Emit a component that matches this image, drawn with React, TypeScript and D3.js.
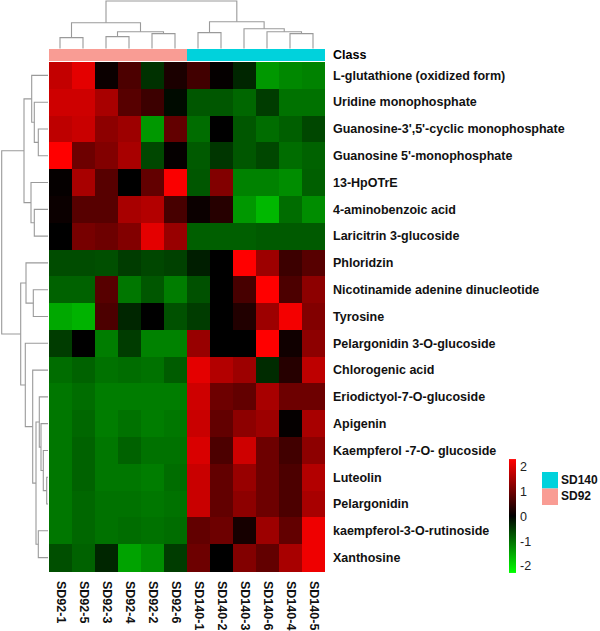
import React from "react";
import * as d3 from "d3";

const rowLabels = [
  "L-glutathione (oxidized form)",
  "Uridine monophosphate",
  "Guanosine-3',5'-cyclic monophosphate",
  "Guanosine 5'-monophosphate",
  "13-HpOTrE",
  "4-aminobenzoic acid",
  "Laricitrin 3-glucoside",
  "Phloridzin",
  "Nicotinamide adenine dinucleotide",
  "Tyrosine",
  "Pelargonidin 3-O-glucoside",
  "Chlorogenic acid",
  "Eriodictyol-7-O-glucoside",
  "Apigenin",
  "Kaempferol -7-O- glucoside",
  "Luteolin",
  "Pelargonidin",
  "kaempferol-3-O-rutinoside",
  "Xanthosine",
];

const colLabels = [
  "SD92-1", "SD92-5", "SD92-3", "SD92-4", "SD92-2", "SD92-6",
  "SD140-1", "SD140-2", "SD140-3", "SD140-6", "SD140-4", "SD140-5",
];

const colClasses = [
  "SD92", "SD92", "SD92", "SD92", "SD92", "SD92",
  "SD140", "SD140", "SD140", "SD140", "SD140", "SD140",
];

const classNames = ["SD140", "SD92"];
const classColors = ["#00D2DC", "#F99C94"];

const heatValues: number[][] = [
  [1.8, 2.1, 0.1, 0.7, -0.45, 0.25, 0.6, 0.05, -0.35, -1.4, -1.25, -1.2],
  [1.9, 1.9, 1.55, 0.8, 0.55, -0.1, -0.8, -0.8, -0.95, -0.55, -1.05, -1.05],
  [1.75, 1.85, 1.3, 1.45, -1.4, 0.9, -1.0, 0.0, -0.8, -1.0, -0.88, -0.65],
  [2.35, 1.0, 1.2, 1.55, -0.65, 0.05, -0.83, -0.5, -0.8, -0.65, -1.0, -0.9],
  [0.05, 1.55, 0.8, 0.0, 0.9, 2.3, -0.8, 1.2, -1.2, -1.2, -1.3, -0.88],
  [0.1, 0.8, 0.8, 1.55, 1.65, 0.65, 0.1, 0.35, -1.4, -1.7, -1.0, -1.3],
  [0.0, 1.1, 1.0, 1.2, 2.1, 1.4, -0.88, -0.88, -0.88, -0.83, -0.83, -0.83],
  [-0.7, -0.7, -0.73, -0.55, -0.65, -0.6, -0.28, 0.0, 2.35, 1.45, 0.55, 0.8],
  [-0.9, -0.9, 0.8, -1.1, -0.8, -1.15, -0.75, 0.0, 0.65, 2.35, 0.7, 1.3],
  [-1.55, -1.65, 0.7, -0.35, 0.0, -0.75, -0.55, 0.0, 0.3, 1.45, 2.25, 1.2],
  [-0.55, 0.0, -1.15, -0.55, -1.2, -1.2, 1.4, 0.0, 0.0, 2.35, 0.15, 1.3],
  [-1.0, -0.9, -1.05, -1.0, -1.05, -0.85, 2.1, 1.65, 1.45, -0.4, 0.35, 1.75],
  [-1.1, -1.0, -1.15, -1.15, -1.15, -1.15, 1.9, 1.0, 0.9, 1.55, 1.0, 1.0],
  [-1.1, -0.95, -1.15, -1.05, -1.15, -1.1, 1.85, 0.9, 1.3, 1.45, 0.05, 1.55],
  [-1.1, -0.9, -1.1, -0.9, -1.05, -1.05, 2.0, 0.7, 1.9, 1.0, 0.6, 1.3],
  [-1.1, -0.9, -1.1, -1.1, -1.15, -1.0, 1.85, 0.9, 1.4, 1.0, 0.7, 1.65],
  [-1.1, -0.95, -1.05, -1.05, -1.1, -1.05, 1.85, 0.9, 1.3, 1.0, 0.7, 1.55],
  [-1.1, -0.95, -1.05, -1.0, -1.05, -1.0, 0.9, 1.0, 0.2, 1.45, 0.9, 2.2],
  [-0.73, -0.9, -0.35, -1.5, -1.3, -0.55, 1.0, 0.0, 1.2, 0.9, 1.55, 2.2],
];

// linkage: [leftId, rightId, height]; leaves are 0..n-1, merges numbered from n
const rowMerges: [number, number, number][] = [
  [2, 3, 9.7],
  [1, 19, 13.7],
  [0, 20, 16.3],
  [5, 6, 13.7],
  [4, 22, 17],
  [21, 23, 24],
  [8, 9, 14.7],
  [7, 25, 22],
  [15, 16, 1.3],
  [14, 27, 4.7],
  [13, 28, 7],
  [12, 29, 8.7],
  [17, 18, 9.7],
  [30, 31, 12],
  [11, 32, 15.3],
  [10, 33, 22.7],
  [26, 34, 27.3],
  [24, 35, 46.3],
];

const colMerges: [number, number, number][] = [
  [0, 1, 11],
  [2, 3, 12],
  [4, 5, 15],
  [13, 14, 17],
  [12, 15, 26],
  [6, 7, 16],
  [10, 11, 15],
  [9, 18, 17],
  [8, 19, 20],
  [17, 20, 27],
  [16, 21, 48],
];

const legendTicks = [2, 1, 0, -1, -2];

function dendroSegments(
  merges: [number, number, number][],
  leafPos: number[]
): { p1: number; h1: number; p2: number; h2: number; hm: number }[] {
  const pos: number[] = [...leafPos];
  const hts: number[] = leafPos.map(() => 0);
  const segs: { p1: number; h1: number; p2: number; h2: number; hm: number }[] = [];
  merges.forEach(([a, b, h]) => {
    segs.push({ p1: pos[a], h1: hts[a], p2: pos[b], h2: hts[b], hm: h });
    pos.push((pos[a] + pos[b]) / 2);
    hts.push(h);
  });
  return segs;
}

export default function App() {
  const W = 600;
  const H = 631;
  const font = "Arial, 'Liberation Sans', sans-serif";

  const x = d3.scaleBand<string>().domain(colLabels).range([48.5, 324.5]);
  const y = d3.scaleBand<string>().domain(rowLabels).range([62, 571]);
  const color = d3
    .scaleLinear<string>()
    .domain([-2.35, 0, 2.35])
    .range(["#00FF00", "#000000", "#FF0000"])
    .clamp(true);
  const classColor = d3.scaleOrdinal<string, string>().domain(classNames).range(classColors);

  const colH = d3.scaleLinear().domain([0, 48]).range([48.5, 1]);
  const rowH = d3.scaleLinear().domain([0, 46.3]).range([48, 1.7]);

  const colSegs = dendroSegments(
    colMerges,
    colLabels.map((c) => (x(c) as number) + x.bandwidth() / 2)
  );
  const rowSegs = dendroSegments(
    rowMerges,
    rowLabels.map((r) => (y(r) as number) + y.bandwidth() / 2)
  );

  const legendY = d3.scaleLinear().domain([-2, 2]).range([567, 468]);
  const gradStops = d3.range(0, 21).map((i) => {
    const v = 2.35 - (4.7 * i) / 20;
    return { offset: i / 20, c: color(v) };
  });

  return (
    <svg
      width={W}
      height={H}
      style={{ position: "absolute", left: 0, top: 0, background: "#fff" }}
      fontFamily={font}
    >
      <defs>
        <linearGradient id="cbar" x1="0" y1="0" x2="0" y2="1">
          {gradStops.map((s, i) => (
            <stop key={i} offset={s.offset} stopColor={s.c} />
          ))}
        </linearGradient>
      </defs>

      {/* column dendrogram */}
      <g stroke="#9a9a9a" strokeWidth={1.1} fill="none">
        {colSegs.map((s, i) => (
          <path
            key={i}
            d={`M${s.p1},${colH(s.h1)}V${colH(s.hm)}H${s.p2}V${colH(s.h2)}`}
          />
        ))}
      </g>

      {/* row dendrogram */}
      <g stroke="#9a9a9a" strokeWidth={1.1} fill="none">
        {rowSegs.map((s, i) => (
          <path
            key={i}
            d={`M${rowH(s.h1)},${s.p1}H${rowH(s.hm)}V${s.p2}H${rowH(s.h2)}`}
          />
        ))}
      </g>

      {/* class annotation bar */}
      <g shapeRendering="crispEdges">
        {colLabels.map((c, j) => (
          <rect
            key={c}
            x={x(c)}
            y={49}
            width={x.bandwidth() + 0.5}
            height={12}
            fill={classColor(colClasses[j])}
          />
        ))}
      </g>
      <text x={333} y={55.5} dominantBaseline="middle" fontSize={12.5} fontWeight="bold">
        Class
      </text>

      {/* heatmap cells */}
      <g shapeRendering="crispEdges">
        {rowLabels.map((r, i) =>
          colLabels.map((c, j) => (
            <rect
              key={r + c}
              x={x(c)}
              y={y(r)}
              width={x.bandwidth() + 0.5}
              height={y.bandwidth() + 0.5}
              fill={color(heatValues[i][j])}
            />
          ))
        )}
      </g>

      {/* row labels */}
      <g fontSize={12.5} fontWeight="bold" fill="#111">
        {rowLabels.map((r) => (
          <text key={r} x={333} y={(y(r) as number) + y.bandwidth() / 2 + 1} dominantBaseline="middle">
            {r}
          </text>
        ))}
      </g>

      {/* column labels */}
      <g fontSize={12.5} fontWeight="bold" fill="#111">
        {colLabels.map((c) => (
          <text
            key={c}
            transform={`translate(${(x(c) as number) + x.bandwidth() / 2},581) rotate(90)`}
            dominantBaseline="middle"
          >
            {c}
          </text>
        ))}
      </g>

      {/* color legend */}
      <rect x={509} y={legendY(2.36)} width={7} height={legendY(-2.24) - legendY(2.36)} fill="url(#cbar)" />
      <g fontSize={12.5} fill="#222">
        {legendTicks.map((t) => (
          <text key={t} x={520} y={legendY(t)} dominantBaseline="middle">
            {t}
          </text>
        ))}
      </g>

      {/* class legend */}
      {classNames.map((n, i) => (
        <g key={n}>
          <rect x={542} y={472 + i * 16.5} width={16} height={16.5} fill={classColor(n)} />
          <text
            x={561}
            y={480.5 + i * 16.5}
            dominantBaseline="middle"
            fontSize={12}
            fontWeight="bold"
            fill="#111"
          >
            {n}
          </text>
        </g>
      ))}
    </svg>
  );
}
